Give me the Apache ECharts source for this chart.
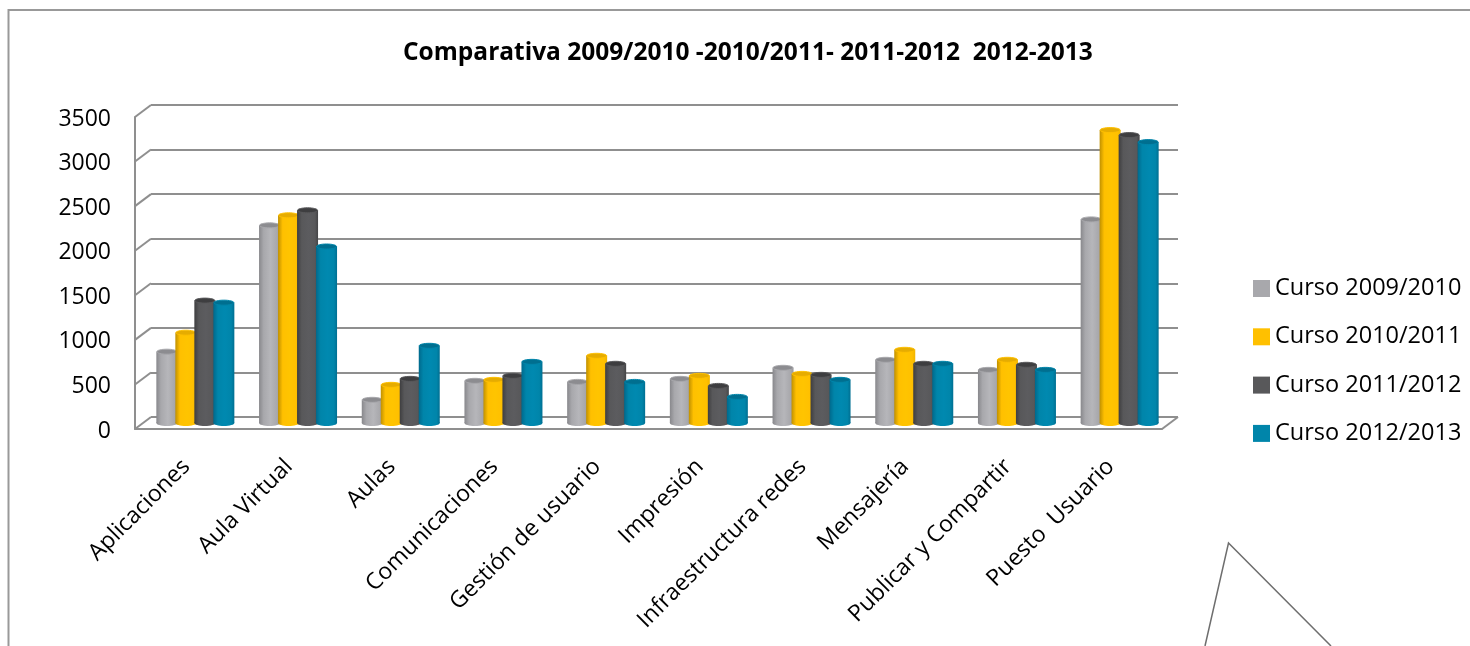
<!DOCTYPE html>
<html>
<head>
<meta charset="utf-8">
<style>html,body{margin:0;padding:0;background:#fff}#c{width:1470px;height:646px}</style>
<script src="https://cdn.jsdelivr.net/npm/echarts@6/dist/echarts.min.js"></script>
</head>
<body>
<div id="c"></div>
<script>
const categories = ['Aplicaciones','Aula Virtual','Aulas','Comunicaciones','Gestión de usuario','Impresión','Infraestructura redes','Mensajería','Publicar y Compartir','Puesto  Usuario'];
const curso0910 = [800,2217,260,473,461,495,619,709,596,2284];
const curso1011 = [1013,2330,428,484,754,529,551,821,709,3286];
const curso1112 = [1373,2386,495,529,664,416,540,664,653,3230];
const curso1213 = [1350,1980,866,686,461,293,484,664,596,3151];
const valueTicks = [0,500,1000,1500,2000,2500,3000,3500];

// Cylinder shading per course: edge, highlight, far edge, cap
const palette = [
  {name:'Curso 2009/2010', color:'#a8a8ac', edge:'#88888c', light:'#b6b6ba', far:'#98989c', cap:'#8c8c90', values:curso0910},
  {name:'Curso 2010/2011', color:'#ffc000', edge:'#c09000', light:'#ffc400', far:'#f0b400', cap:'#e6ac00', values:curso1011},
  {name:'Curso 2011/2012', color:'#58585a', edge:'#3e3e40', light:'#5c5c5f', far:'#444446', cap:'#3e3e40', values:curso1112},
  {name:'Curso 2012/2013', color:'#0085aa', edge:'#00698c', light:'#0089b0', far:'#006f92', cap:'#006f90', values:curso1213}
];

const depthX = 16, depthY = -12;      // floor depth of the box
const barShiftX = 9, barShiftY = -6;  // bars stand mid-way along the floor
const barStep = 19, barWidth = 21, capRy = 3;
const axisGray = '#8f8f8f';
const textFont = '"Open Sans","Noto Sans",sans-serif';

function cylinder(style, idx) {
  return function (params, api) {
    const cat = api.value(0), val = api.value(1);
    const base = api.coord([cat, 0]), top = api.coord([cat, val]);
    const cx = base[0] + barShiftX + (idx - 1.5) * barStep;
    const yb = base[1] + barShiftY, yt = top[1] + barShiftY;
    const rx = barWidth / 2;
    const fill = new echarts.graphic.LinearGradient(0, 0, 1, 0, [
      {offset: 0, color: style.edge},
      {offset: 0.22, color: style.color},
      {offset: 0.55, color: style.light},
      {offset: 0.85, color: style.color},
      {offset: 1, color: style.far}
    ]);
    return {
      type: 'group',
      children: [
        {type: 'ellipse', shape: {cx: cx, cy: yb, rx: rx, ry: capRy}, style: {fill: fill}},
        {type: 'rect', shape: {x: cx - rx, y: yt, width: barWidth, height: yb - yt}, style: {fill: fill}},
        {type: 'ellipse', shape: {cx: cx, cy: yt, rx: rx - 0.5, ry: capRy - 0.5},
         style: {fill: style.cap, stroke: style.color, lineWidth: 1}}
      ]
    };
  };
}

const barSeries = palette.map(function (p, i) {
  return {
    name: p.name,
    type: 'custom',
    xAxisIndex: 0, yAxisIndex: 0,
    z: 10 + i,
    clip: false,
    itemStyle: {color: p.color},
    encode: {x: 0, y: 1},
    data: p.values.map(function (v, k) { return [k, v]; }),
    renderItem: cylinder(p, i)
  };
});

// Side wall and floor edges joining the front axes to the back wall
const edgeSeries = {
  type: 'custom',
  xAxisIndex: 0, yAxisIndex: 0,
  z: 3,
  clip: false,
  silent: true,
  legendHoverLink: false,
  encode: {y: 0},
  data: valueTicks.map(function (v) { return [v]; }),
  renderItem: function (params, api) {
    const y = api.coord([0, api.value(0)])[1];
    const x0 = params.coordSys.x, x1 = x0 + params.coordSys.width;
    const lineStyle = {stroke: axisGray, lineWidth: 2, fill: null};
    const kids = [{type: 'line', shape: {x1: x0, y1: y, x2: x0 + depthX, y2: y + depthY}, style: lineStyle}];
    if (params.dataIndex === 0) {
      kids.push({type: 'line', shape: {x1: x1, y1: y, x2: x1 + depthX, y2: y + depthY}, style: lineStyle});
    }
    return {type: 'group', children: kids};
  }
};

const chart = echarts.init(document.getElementById('c'), null, {renderer: 'canvas'});
chart.setOption({
  animation: false,
  backgroundColor: '#fff',
  title: {
    text: 'Comparativa 2009/2010 -2010/2011- 2011-2012  2012-2013',
    left: 403, top: 41,
    padding: 0,
    textStyle: {fontFamily: textFont, fontWeight: 'bold', fontSize: 24.5, color: '#000'}
  },
  legend: {
    orient: 'vertical',
    left: 1253, top: 275.5,
    padding: 0,
    itemWidth: 17, itemHeight: 17,
    itemGap: 22.3,
    icon: 'rect',
    data: palette.map(function (p) { return p.name; }),
    textStyle: {fontFamily: textFont, fontSize: 23.5, color: '#000', lineHeight: 26},
    selectedMode: false
  },
  grid: [
    {left: 135, width: 1027, top: 117, height: 312, outerBoundsMode: 'none'},
    {left: 151, width: 1027, top: 105, height: 312, outerBoundsMode: 'none'}
  ],
  xAxis: [
    {type: 'category', gridIndex: 0, data: categories,
     axisTick: {show: false},
     axisLine: {show: true, lineStyle: {color: axisGray, width: 2}},
     axisLabel: {rotate: 45, interval: 0, margin: 34, fontFamily: textFont, fontSize: 23, color: '#000'}},
    {type: 'category', gridIndex: 1, data: categories, show: false}
  ],
  yAxis: [
    {type: 'value', gridIndex: 0, min: 0, max: 3500, interval: 500,
     axisTick: {show: false},
     axisLine: {show: true, lineStyle: {color: axisGray, width: 2}},
     splitLine: {show: false},
     axisLabel: {margin: 24, fontFamily: textFont, fontSize: 23, color: '#000',
                 verticalAlign: 'top', lineHeight: 4,
                 formatter: function (v) { return String(v); }}},
    {type: 'value', gridIndex: 1, min: 0, max: 3500, interval: 500,
     axisLine: {show: false}, axisTick: {show: false}, axisLabel: {show: false},
     splitLine: {show: true, lineStyle: {color: axisGray, width: 2}}}
  ],
  graphic: [
    {type: 'polyline', silent: true, z: 1,
     shape: {points: [[8.5, 646], [8.5, 10], [1470, 10]]},
     style: {stroke: '#999999', lineWidth: 2, fill: null}},
    {type: 'polyline', silent: true, z: 1,
     shape: {points: [[1205, 646], [1228.5, 543], [1331, 646]]},
     style: {stroke: '#6e6e6e', lineWidth: 1.5, fill: null}}
  ],
  series: [edgeSeries].concat(barSeries)
});
</script>
</body>
</html>
